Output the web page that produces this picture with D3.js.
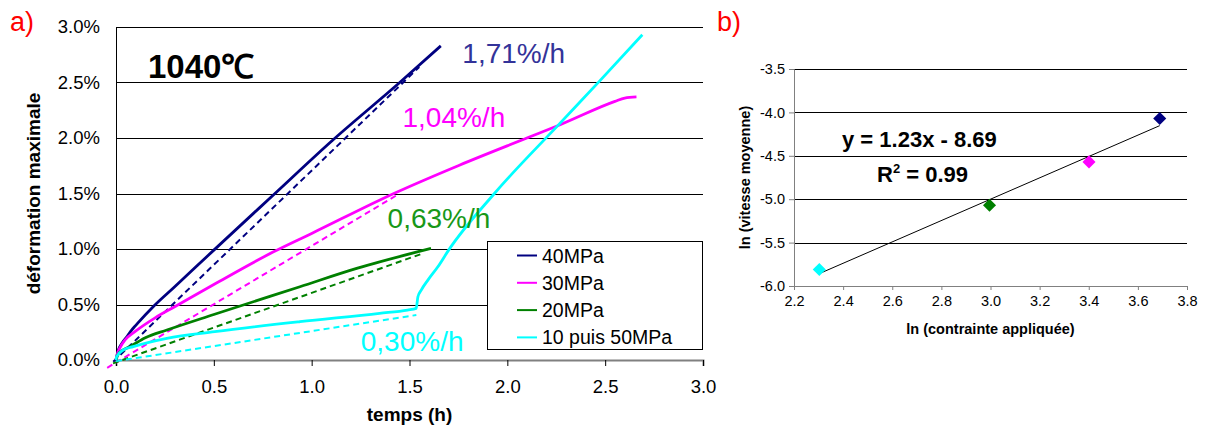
<!DOCTYPE html>
<html><head><meta charset="utf-8">
<script src="https://cdn.jsdelivr.net/npm/d3@7/dist/d3.min.js"></script>
<style>
html,body{margin:0;padding:0;background:#fff;}
svg text{font-family:"Liberation Sans",Arial,sans-serif;}
</style></head>
<body>
<svg id="c" width="1206" height="432"></svg>
<script>
// ---------- DATA (chart a) ----------
const seriesNames = ["40MPa", "30MPa", "20MPa", "10 puis 50MPa"];
const seriesColors = ["#000080", "#FF00FF", "#008000", "#00FFFF"];
const rateLabels = ["1,71%/h", "1,04%/h", "0,63%/h", "0,30%/h"];
const rateLabelColors = ["#333399", "#FF00FF", "#189818", "#00FFFF"];
// time (h) / deformation (%)
const t40 = [0, 0.01, 0.03, 0.06, 0.08, 0.1, 0.11, 0.19, 0.3, 0.5, 0.8, 1.107, 1.45, 1.66];
const e40 = [0, 0.08, 0.15, 0.22, 0.27, 0.31, 0.33, 0.48, 0.66, 0.99, 1.48, 1.98, 2.5, 2.83];
const t30 = [0, 0.01, 0.02, 0.046, 0.1, 0.2, 0.3, 0.5, 0.8, 1.0, 1.42, 1.755, 2.1, 2.27, 2.55, 2.6, 2.66];
const e30 = [0, 0.07, 0.11, 0.18, 0.26, 0.38, 0.48, 0.68, 0.97, 1.14, 1.5, 1.755, 2.0, 2.12, 2.33, 2.36, 2.37];
const t20 = [0, 0.01, 0.037, 0.07, 0.15, 0.26, 0.5, 0.94, 1.23, 1.61];
const e20 = [0, 0.05, 0.09, 0.12, 0.2, 0.27, 0.41, 0.66, 0.825, 1.005];
const t10 = [0, 0.003, 0.037, 0.088, 0.26, 0.505, 0.94, 1.347, 1.49, 1.534, 1.543, 1.56, 1.594, 1.645, 1.70, 1.934, 2.265, 2.47, 2.69];
const e10 = [0, 0.03, 0.09, 0.12, 0.195, 0.255, 0.345, 0.42, 0.45, 0.465, 0.57, 0.63, 0.72, 0.84, 0.99, 1.5, 2.125, 2.51, 2.93];
// dashed average-rate lines: [t start, t end], [e start, e end]
const fitT = [[-0.014, 1.55], [-0.045, 1.44], [-0.015, 1.56], [0, 1.535]];
const fitE = [[-0.015, 2.64], [-0.07, 1.49], [-0.03, 0.955], [-0.01, 0.405]];
const xTicksA = [0, 0.5, 1.0, 1.5, 2.0, 2.5, 3.0];
const yTicksA = [0, 0.5, 1.0, 1.5, 2.0, 2.5, 3.0];

// ---------- DATA (chart b) ----------
const lnStress = [2.303, 2.996, 3.401, 3.689];
const lnRate = [-5.81, -5.07, -4.57, -4.07];
const pointColors = ["#00FFFF", "#008000", "#FF00FF", "#000080"];
const trendSlope = 1.23, trendIntercept = -8.69;
const xTicksB = [2.2, 2.4, 2.6, 2.8, 3.0, 3.2, 3.4, 3.6, 3.8];
const yTicksB = [-6.0, -5.5, -5.0, -4.5, -4.0, -3.5];

// ---------- LAYOUT ----------
const svg = d3.select("#c");
const font = '"Liberation Sans",Arial,sans-serif';

// Chart a
const xA = d3.scaleLinear().domain([0, 3]).range([116, 703]);
const yA = d3.scaleLinear().domain([0, 3]).range([360, 27]);
const gA = svg.append("g");

gA.selectAll("line.grid").data(yTicksA.filter(d => d > 0)).enter().append("line")
  .attr("x1", xA(0)).attr("x2", xA(3))
  .attr("y1", d => Math.round(yA(d)) + 0.5).attr("y2", d => Math.round(yA(d)) + 0.5)
  .attr("stroke", "#000").attr("stroke-width", 1);

// y axis
gA.append("g").attr("transform", `translate(${xA(0)},0)`)
  .call(d3.axisLeft(yA).tickValues(yTicksA).tickSize(0).tickPadding(16)
    .tickFormat(d => d.toFixed(1) + "%"))
  .call(g => { g.select(".domain").attr("stroke", "#000"); g.selectAll("text").attr("font-size", 18.5).attr("fill", "#000").attr("font-family", font); });

// x axis
gA.append("g").attr("transform", `translate(0,${yA(0)})`)
  .call(d3.axisBottom(xA).tickValues(xTicksA).tickSize(6).tickPadding(14).tickFormat(d => d.toFixed(1)))
  .call(g => { g.select(".domain").attr("stroke", "#808080").attr("stroke-width", 2);
    g.selectAll(".tick line").attr("stroke", "#000");
    g.selectAll("text").attr("font-size", 18.5).attr("fill", "#000").attr("font-family", font); });

// dashed fits
const lineA = d3.line().x(d => xA(d[0])).y(d => yA(d[1]));
fitT.forEach((tt, i) => {
  gA.append("path").datum([[tt[0], fitE[i][0]], [tt[1], fitE[i][1]]])
    .attr("d", lineA).attr("fill", "none").attr("stroke", seriesColors[i])
    .attr("stroke-width", 2).attr("stroke-dasharray", "6,4");
});

// solid curves
const curveLine = d3.line().x(d => xA(d[0])).y(d => yA(d[1])).curve(d3.curveMonotoneX);
const series = [[t40, e40], [t30, e30], [t20, e20], [t10, e10]];
series.forEach((s, i) => {
  const pts = s[0].map((t, k) => [t, s[1][k]]);
  gA.append("path").datum(pts).attr("d", curveLine).attr("fill", "none")
    .attr("stroke", seriesColors[i]).attr("stroke-width", 2.8).attr("stroke-linejoin", "round");
});

// rate labels
const labelPos = [[1.770, 2.673, "start"], [1.464, 2.097, "start"], [1.388, 1.185, "start"], [1.776, 0.084, "end"]];
rateLabels.forEach((txt, i) => {
  gA.append("text").attr("x", xA(labelPos[i][0])).attr("y", yA(labelPos[i][1]))
    .attr("text-anchor", labelPos[i][2]).attr("font-size", 28).attr("fill", rateLabelColors[i]).text(txt);
});

// 1040°C
gA.append("text").attr("x", 148).attr("y", 78).attr("font-size", 33).attr("font-weight", "bold").text("1040℃");

// legend
const lg = gA.append("g");
lg.append("rect").attr("x", 487.5).attr("y", 241.5).attr("width", 215).attr("height", 108)
  .attr("fill", "#fff").attr("stroke", "#000").attr("stroke-width", 1);
seriesNames.forEach((n, i) => {
  const yy = 255.5 + i * 27.3;
  lg.append("line").attr("x1", 517).attr("x2", 537).attr("y1", yy).attr("y2", yy)
    .attr("stroke", seriesColors[i]).attr("stroke-width", 2);
  lg.append("text").attr("x", 542).attr("y", yy + 7).attr("font-size", 19.5).text(n);
});

// axis titles a
gA.append("text").attr("x", (xA(0) + xA(3)) / 2).attr("y", 421).attr("text-anchor", "middle")
  .attr("font-size", 19).attr("font-weight", "bold").text("temps (h)");
gA.append("text").attr("transform", `translate(40,${(yA(0) + yA(3)) / 2}) rotate(-90)`)
  .attr("text-anchor", "middle").attr("font-size", 19).attr("font-weight", "bold").text("déformation maximale");

// panel letters
svg.append("text").attr("x", 10).attr("y", 31).attr("font-size", 27).attr("fill", "#FF0000").text("a)");
svg.append("text").attr("x", 717).attr("y", 31).attr("font-size", 27).attr("fill", "#FF0000").text("b)");

// Chart b
const xB = d3.scaleLinear().domain([2.2, 3.8]).range([794, 1187]);
const yB = d3.scaleLinear().domain([-6, -3.5]).range([286, 69]);
const gB = svg.append("g");

gB.selectAll("line.grid").data(yTicksB.filter(d => d > -6)).enter().append("line")
  .attr("x1", xB(2.2)).attr("x2", xB(3.8))
  .attr("y1", d => Math.round(yB(d)) + 0.5).attr("y2", d => Math.round(yB(d)) + 0.5)
  .attr("stroke", "#000").attr("stroke-width", 1);

gB.append("g").attr("transform", `translate(${xB(2.2)},0)`)
  .call(d3.axisLeft(yB).tickValues(yTicksB).tickSize(5).tickPadding(4).tickFormat(d => d.toFixed(1)))
  .call(g => { g.select(".domain").attr("stroke", "#808080");
    g.selectAll(".tick line").attr("stroke", "#808080");
    g.selectAll("text").attr("font-size", 14.5).attr("fill", "#000").attr("font-family", font); });

gB.append("g").attr("transform", `translate(0,${yB(-6)})`)
  .call(d3.axisBottom(xB).tickValues(xTicksB).tickSize(4).tickPadding(6).tickFormat(d => d.toFixed(1)))
  .call(g => { g.select(".domain").attr("stroke", "#808080");
    g.selectAll(".tick line").attr("stroke", "#808080");
    g.selectAll("text").attr("font-size", 14.5).attr("fill", "#000").attr("font-family", font); });

// trendline
const xMin = d3.min(lnStress), xMax = d3.max(lnStress);
gB.append("line").attr("x1", xB(xMin)).attr("y1", yB(trendSlope * xMin + trendIntercept))
  .attr("x2", xB(xMax)).attr("y2", yB(trendSlope * xMax + trendIntercept))
  .attr("stroke", "#000").attr("stroke-width", 1);

// diamonds
const sym = d3.symbol().type(d3.symbolSquare).size(85);
lnStress.forEach((xv, i) => {
  gB.append("path").attr("d", sym)
    .attr("transform", `translate(${xB(xv)},${yB(lnRate[i])}) rotate(45)`)
    .attr("fill", pointColors[i]);
});

// equation
gB.append("text").attr("x", 842).attr("y", 147).attr("font-size", 22).attr("font-weight", "bold")
  .text("y = " + trendSlope.toFixed(2) + "x - " + Math.abs(trendIntercept).toFixed(2));
const r2 = gB.append("text").attr("x", 877).attr("y", 182).attr("font-size", 22).attr("font-weight", "bold");
r2.append("tspan").text("R");
r2.append("tspan").attr("font-size", 13).attr("dy", -9).text("2");
r2.append("tspan").attr("dy", 9).text(" = 0.99");

// axis titles b
gB.append("text").attr("x", (xB(2.2) + xB(3.8)) / 2).attr("y", 334).attr("text-anchor", "middle")
  .attr("font-size", 14.5).attr("font-weight", "bold").text("ln (contrainte appliquée)");
gB.append("text").attr("transform", `translate(750,${(yB(-6) + yB(-3.5)) / 2}) rotate(-90)`)
  .attr("text-anchor", "middle").attr("font-size", 14.5).attr("font-weight", "bold").text("ln (vitesse moyenne)");
</script>
</body></html>
